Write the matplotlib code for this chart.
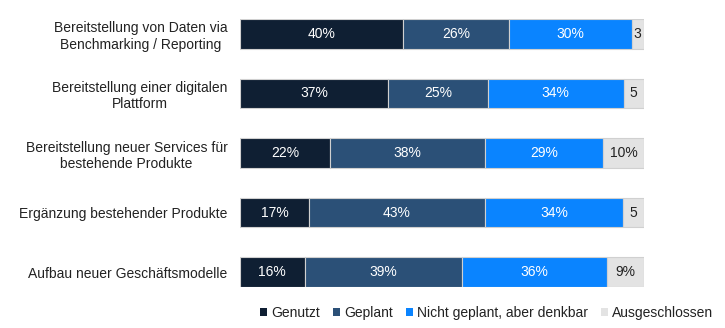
import numpy as np
import matplotlib.pyplot as plt
from matplotlib.patches import Patch

plt.rcParams['font.family'] = ['Liberation Sans', 'DejaVu Sans']

categories = [
    'Bereitstellung von Daten via\nBenchmarking / Reporting',
    'Bereitstellung einer digitalen\nPlattform',
    'Bereitstellung neuer Services für\nbestehende Produkte',
    'Ergänzung bestehender Produkte',
    'Aufbau neuer Geschäftsmodelle',
]
genutzt = [40, 37, 22, 17, 16]
geplant = [26, 25, 38, 43, 39]
denkbar = [30, 34, 29, 34, 36]
ausgeschlossen = [3, 5, 10, 5, 9]

series_names = ['Genutzt', 'Geplant', 'Nicht geplant, aber denkbar', 'Ausgeschlossen']
colors = ['#0f1f33', '#2b5077', '#0a84ff', '#e3e3e3']
text_colors = ['white', 'white', 'white', '#222222']

data = np.array([genutzt, geplant, denkbar, ausgeschlossen], dtype=float)
# each row is stretched to the full width (100 % stacked)
shares = data / data.sum(axis=0) * 100

fig = plt.figure(figsize=(7.25, 3.28), dpi=100)
ax = fig.add_axes([0.331, 0.125, 0.557, 0.817])

y = np.arange(len(categories))
left = np.zeros(len(categories))
for i, name in enumerate(series_names):
    ax.barh(y, shares[i], left=left, height=0.5, color=colors[i],
            edgecolor='#d0d0d0', linewidth=0.8, label=name)
    for j, v in enumerate(data[i]):
        txt = f'{int(v)}%' if v >= 9 else f'{int(v)}'
        ax.text(left[j] + shares[i][j] / 2, y[j], txt, ha='center', va='center',
                color=text_colors[i], fontsize=10)
    left += shares[i]

ax.set_xlim(0, 100)
ax.set_ylim(4.25, -0.25)
ax.set_yticks(y)
ax.set_yticklabels(categories, fontsize=10, color='#222222', ma='center')
ax.tick_params(axis='y', length=0, pad=9)
ax.set_xticks([])
for s in ax.spines.values():
    s.set_visible(False)

handles = [Patch(facecolor=c, edgecolor='none') for c in colors]
fig.legend(handles, series_names, loc='center', bbox_to_anchor=(0.671, 0.045),
           ncol=4, frameon=False, fontsize=10, handlelength=0.5, handleheight=0.5,
           handletextpad=0.3, columnspacing=0.95, labelcolor='#222222')

fig.savefig('out.png', dpi=100)
